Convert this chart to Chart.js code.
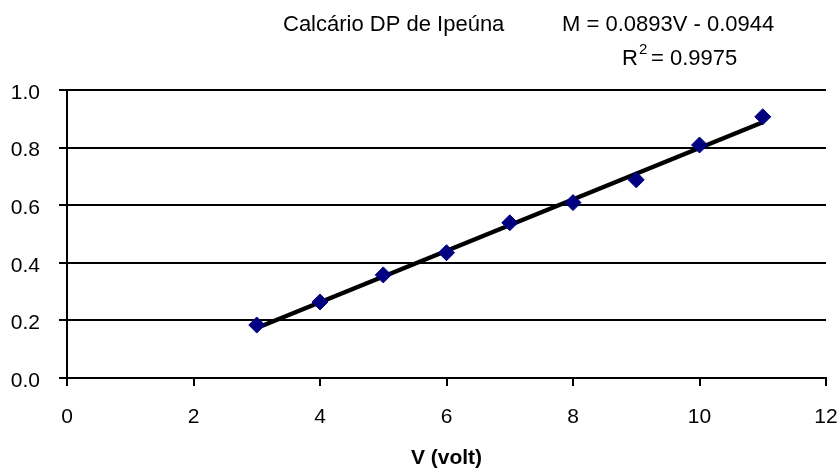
<!DOCTYPE html>
<html>
<head>
<meta charset="utf-8">
<script src="https://cdn.jsdelivr.net/npm/chart.js@4.4.1/dist/chart.umd.min.js"></script>
<style>
  html, body { margin: 0; padding: 0; background: #fff; }
  #wrap { width: 840px; height: 472px; position: relative; }
</style>
</head>
<body>
<div id="wrap"><canvas id="chart" width="840" height="472"></canvas></div>
<script>
// Measured data (voltage vs M)
const voltage = [3, 4, 5, 6, 7, 8, 9, 10, 11];
const mValues = [0.184, 0.264, 0.358, 0.435, 0.539, 0.609, 0.688, 0.809, 0.907];

// Linear fit shown on the chart
const fitSlope = 0.0893;
const fitIntercept = -0.0944;
const fitRange = [3, 11];

const seriesName = 'Calcário DP de Ipeúna';
const equationText = 'M = 0.0893V - 0.0944';
const r2Value = '0.9975';

const xTicks = [0, 2, 4, 6, 8, 10, 12];
const yTicks = [0, 0.2, 0.4, 0.6, 0.8, 1.0];

const points = voltage.map((v, i) => ({ x: v, y: mValues[i] }));
const fitLine = fitRange.map(v => ({ x: v, y: fitSlope * v + fitIntercept }));

const FONT = '"Liberation Sans", Arial, sans-serif';

// Header text (series name, equation, R²)
const headerText = {
  id: 'headerText',
  afterDraw(chart) {
    const c = chart.ctx;
    c.save();
    c.fillStyle = '#000';
    c.textBaseline = 'alphabetic';
    c.textAlign = 'left';
    c.font = '22px ' + FONT;
    c.fillText(seriesName, 283, 31);
    c.fillText(equationText, 562, 31);
    c.fillText('R', 622, 65);
    const rw = c.measureText('R').width;
    c.font = '15px ' + FONT;
    c.fillText('2', 623 + rw, 54);
    c.font = '22px ' + FONT;
    c.fillText('= ' + r2Value, 651, 65);
    c.restore();
  }
};

new Chart(document.getElementById('chart'), {
  type: 'scatter',
  data: {
    datasets: [
      {
        label: 'trend',
        type: 'line',
        data: fitLine,
        borderColor: '#000',
        borderWidth: 4.5,
        pointRadius: 0,
        fill: false,
        order: 2
      },
      {
        label: seriesName,
        data: points,
        pointStyle: 'rectRot',
        pointRadius: 8,
        backgroundColor: '#000080',
        borderColor: '#000080',
        borderWidth: 1,
        order: 1
      }
    ]
  },
  options: {
    responsive: false,
    animation: false,
    layout: { padding: { left: 0, right: 14, top: 90, bottom: 0 } },
    plugins: {
      legend: { display: false },
      tooltip: { enabled: false }
    },
    scales: {
      x: {
        type: 'linear',
        min: 0,
        max: 12,
        afterBuildTicks: axis => { axis.ticks = xTicks.map(v => ({ value: v })); },
        afterFit: axis => {
          axis.height = 94;
          axis.paddingLeft = 0;
          axis.paddingRight = 0;
        },
        border: { color: '#000', width: 2 },
        grid: { drawOnChartArea: false, drawTicks: true, tickLength: 8, color: '#000', lineWidth: 2 },
        ticks: {
          color: '#000',
          padding: 19,
          font: { family: FONT, size: 21 },
          callback: v => String(v)
        },
        title: {
          display: true,
          text: 'V (volt)',
          color: '#000',
          padding: { top: 4, bottom: 1 },
          font: { family: FONT, size: 21, weight: 'bold' }
        }
      },
      y: {
        type: 'linear',
        min: 0,
        max: 1.0,
        afterBuildTicks: axis => { axis.ticks = yTicks.map(v => ({ value: v })); },
        afterFit: axis => {
          axis.width = 67;
          axis.paddingTop = 0;
          axis.paddingBottom = 0;
        },
        border: { color: '#000', width: 2 },
        grid: { drawOnChartArea: true, drawTicks: true, tickLength: 8, color: '#000', lineWidth: 2 },
        ticks: {
          color: '#000',
          padding: 19,
          labelOffset: 3,
          font: { family: FONT, size: 21 },
          callback: v => v.toFixed(1)
        }
      }
    }
  },
  plugins: [headerText]
});
</script>
</body>
</html>
